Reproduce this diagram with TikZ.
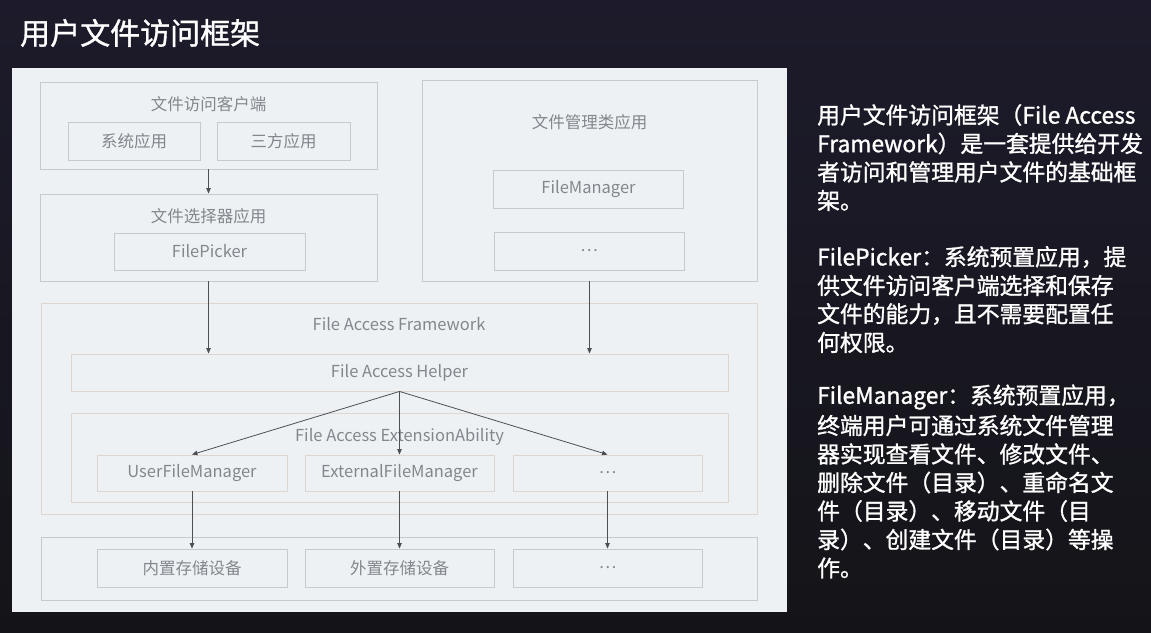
\documentclass[tikz,border=0pt]{standalone}
\usepackage{fontspec}
\setmainfont{Noto Sans CJK SC}
\newfontfamily\heavyfont[FakeBold=1.2]{Noto Sans CJK SC}
\usetikzlibrary{arrows.meta}
\definecolor{bgtop}{HTML}{1D1B2B}
\definecolor{bgbot}{HTML}{141418}
\definecolor{panel}{HTML}{EEF1F4}
\definecolor{boxline}{HTML}{C6CACF}
\definecolor{fwline}{HTML}{DDD6D1}
\definecolor{lbl}{HTML}{83878D}
\definecolor{arrowc}{HTML}{4C4F55}
\tikzset{
  box/.style={draw=boxline, line width=0.9pt, inner sep=0pt},
  fwbox/.style={draw=fwline, line width=0.9pt, inner sep=0pt},
  lab/.style={text=lbl, font=\fontsize{16.5}{18}\selectfont, inner sep=0pt},
  conn/.style={draw=arrowc, line width=0.8pt, -{Triangle[length=5.5pt,width=4.5pt]}},
  note/.style={text=white, font=\heavyfont\fontsize{22.8}{24}\selectfont, anchor=west, inner sep=0pt},
}
\begin{document}
\begin{tikzpicture}[x=1pt,y=-1pt]
% background
\shade[top color=bgtop, bottom color=bgbot] (0,0) rectangle (1151,632);
\useasboundingbox (0,0) rectangle (1151,632);
% title
\node[text=white, font=\heavyfont\fontsize{30}{32}\selectfont, anchor=west, inner sep=0pt] (title) at (20,33) {用户文件访问框架};
% diagram panel
\fill[panel] (12,68) rectangle (787,612);

% file access client
\node[box, minimum width=337pt, minimum height=87pt] (client) at (208.5,125.5) {};
\node[lab] (clientT) at (208.5,104) {文件访问客户端};
\node[box, minimum width=132pt, minimum height=38pt, lab] (sysapp) at (134,141) {系统应用};
\node[box, minimum width=133pt, minimum height=38pt, lab] (thirdapp) at (283.5,141) {三方应用};

% file picker app
\node[box, minimum width=337pt, minimum height=87pt] (picker) at (208.5,237.5) {};
\node[lab] (pickerT) at (208.5,216) {文件选择器应用};
\node[box, minimum width=191pt, minimum height=37pt, lab] (filepicker) at (209.5,251.5) {FilePicker};

% file manager apps
\node[box, minimum width=335pt, minimum height=201pt] (fmapp) at (589.5,180.5) {};
\node[lab] (fmappT) at (589.5,122) {文件管理类应用};
\node[box, minimum width=190pt, minimum height=38pt, lab] (filemanager) at (588.5,189) {FileManager};
\node[box, minimum width=190pt, minimum height=38pt, lab] (fmmore) at (589,251) {…};

% file access framework
\node[fwbox, minimum width=716pt, minimum height=211pt] (faf) at (399,408.5) {};
\node[lab] (fafT) at (399,324) {File Access Framework};
\node[fwbox, minimum width=657pt, minimum height=37pt, lab] (helper) at (399.5,372.5) {File Access Helper};
\node[fwbox, minimum width=657pt, minimum height=89pt] (ext) at (399.5,457.5) {};
\node[lab] (extT) at (399.5,437) {File Access ExtensionAbility};
\node[fwbox, minimum width=190pt, minimum height=36pt, lab] (ufm) at (192,473) {UserFileManager};
\node[fwbox, minimum width=189pt, minimum height=36pt, lab] (efm) at (399.5,473) {ExternalFileManager};
\node[fwbox, minimum width=189pt, minimum height=36pt, lab] (extmore) at (607.5,473) {…};

% storage devices
\node[box, minimum width=716pt, minimum height=63pt] (storage) at (399,568.5) {};
\node[box, minimum width=190pt, minimum height=38pt, lab] (internal) at (192,568) {内置存储设备};
\node[box, minimum width=189pt, minimum height=38pt, lab] (external) at (399.5,568) {外置存储设备};
\node[box, minimum width=189pt, minimum height=38pt, lab] (stmore) at (607.5,568) {…};

% connectors
\draw[conn] (client.south) -- (picker.north);
\draw[conn] (picker.south) -- (picker.south |- helper.north);
\draw[conn] (fmapp.south) -- (fmapp.south |- helper.north);
\draw[conn] (helper.south) -- (ufm.north);
\draw[conn] (helper.south) -- (efm.north);
\draw[conn] (helper.south) -- (extmore.north);
\draw[conn] (ufm.south) -- (internal.north);
\draw[conn] (efm.south) -- (external.north);
\draw[conn] (extmore.south) -- (stmore.north);

% description text
\node[note] (n1) at (817,115) {用户文件访问框架（File Access};
\node[note] (n2) at (817,143.5) {Framework）是一套提供给开发};
\node[note] (n3) at (817,172) {者访问和管理用户文件的基础框};
\node[note] (n4) at (817,200.5) {架。};
\node[note] (n5) at (817,257) {FilePicker：系统预置应用，提};
\node[note] (n6) at (817,285.5) {供文件访问客户端选择和保存};
\node[note] (n7) at (817,314) {文件的能力，且不需要配置任};
\node[note] (n8) at (817,342.5) {何权限。};
\node[note] (n9) at (817,397) {FileManager：系统预置应用，};
\node[note] (n10) at (817,425.5) {终端用户可通过系统文件管理};
\node[note] (n11) at (817,454) {器实现查看文件、修改文件、};
\node[note] (n12) at (817,482.5) {删除文件（目录）、重命名文};
\node[note] (n13) at (817,511) {件（目录）、移动文件（目};
\node[note] (n14) at (817,539.5) {录）、创建文件（目录）等操};
\node[note] (n15) at (817,568) {作。};
\end{tikzpicture}
\end{document}
